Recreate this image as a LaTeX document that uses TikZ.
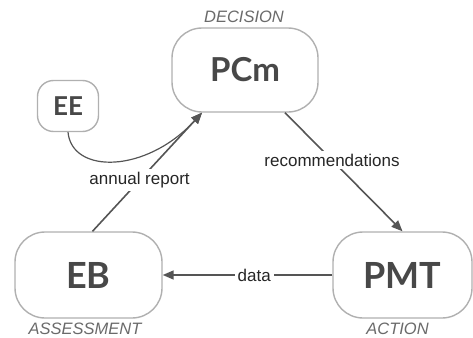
\documentclass[tikz,border=0pt]{standalone}
\usepackage{fontspec}
\setmainfont{Liberation Sans}
\newfontfamily\boxfont{Lato}
\usetikzlibrary{arrows.meta,calc}
\definecolor{boxline}{HTML}{B0B0B0}
\definecolor{boxtext}{HTML}{484848}
\definecolor{arrowc}{HTML}{555555}
\definecolor{rolec}{HTML}{6A6A6A}
\begin{document}
\begin{tikzpicture}[x=1pt,y=-1pt,
  actor/.style={draw=boxline,line width=1.4pt,fill=white,rounded corners=30pt,
     text=boxtext,font=\boxfont\bfseries\fontsize{36}{36}\selectfont,
     inner sep=0pt,align=center},
  topactor/.style={actor,font=\boxfont\bfseries\fontsize{33}{33}\selectfont},
  smallactor/.style={actor,rounded corners=16pt,font=\boxfont\bfseries\fontsize{26}{26}\selectfont},
  role/.style={text=rolec,font=\itshape\fontsize{16.5}{16.5}\selectfont,inner sep=0pt},
  flow/.style={draw=arrowc,line width=1.6pt,-{Triangle[length=11pt,width=9pt]}},
  flowlabel/.style={fill=white,text=black!85,font=\fontsize{17}{17}\selectfont,inner sep=3pt}]
\useasboundingbox (0,0) rectangle (473,337);
\node[topactor,minimum width=146pt,minimum height=84pt] (PCm) at (245,70) {PCm};
\node[smallactor,minimum width=61pt,minimum height=51pt] (EE) at (68,106) {EE};
\node[actor,minimum width=147pt,minimum height=86pt] (EB) at (88.5,275) {EB};
\node[actor,minimum width=139pt,minimum height=86pt] (PMT) at (402.5,275) {PMT};
\node[role] (dec) at (244,17) {DECISION};
\node[role] (ass) at (85,329) {ASSESSMENT};
\node[role] (act) at (397.5,329) {ACTION};
\coordinate (tip) at ([xshift=-43pt]PCm.south);
\draw[flow] ([xshift=40pt]PCm.south) -- node[flowlabel,pos=0.4] (rec) {recommendations} (PMT.north);
\draw[flow] (PMT.west) -- node[flowlabel,pos=0.46] (dat) {data} (EB.east);
\draw[flow] ([xshift=4pt]EB.north) -- node[flowlabel,pos=0.43] (ann) {annual report} (tip);
\draw[flow,line width=1.2pt] (EE.south) .. controls ($(EE.south)+(4,42)$) and ($(tip)+(-56,61)$) .. (tip);
\end{tikzpicture}
\end{document}
